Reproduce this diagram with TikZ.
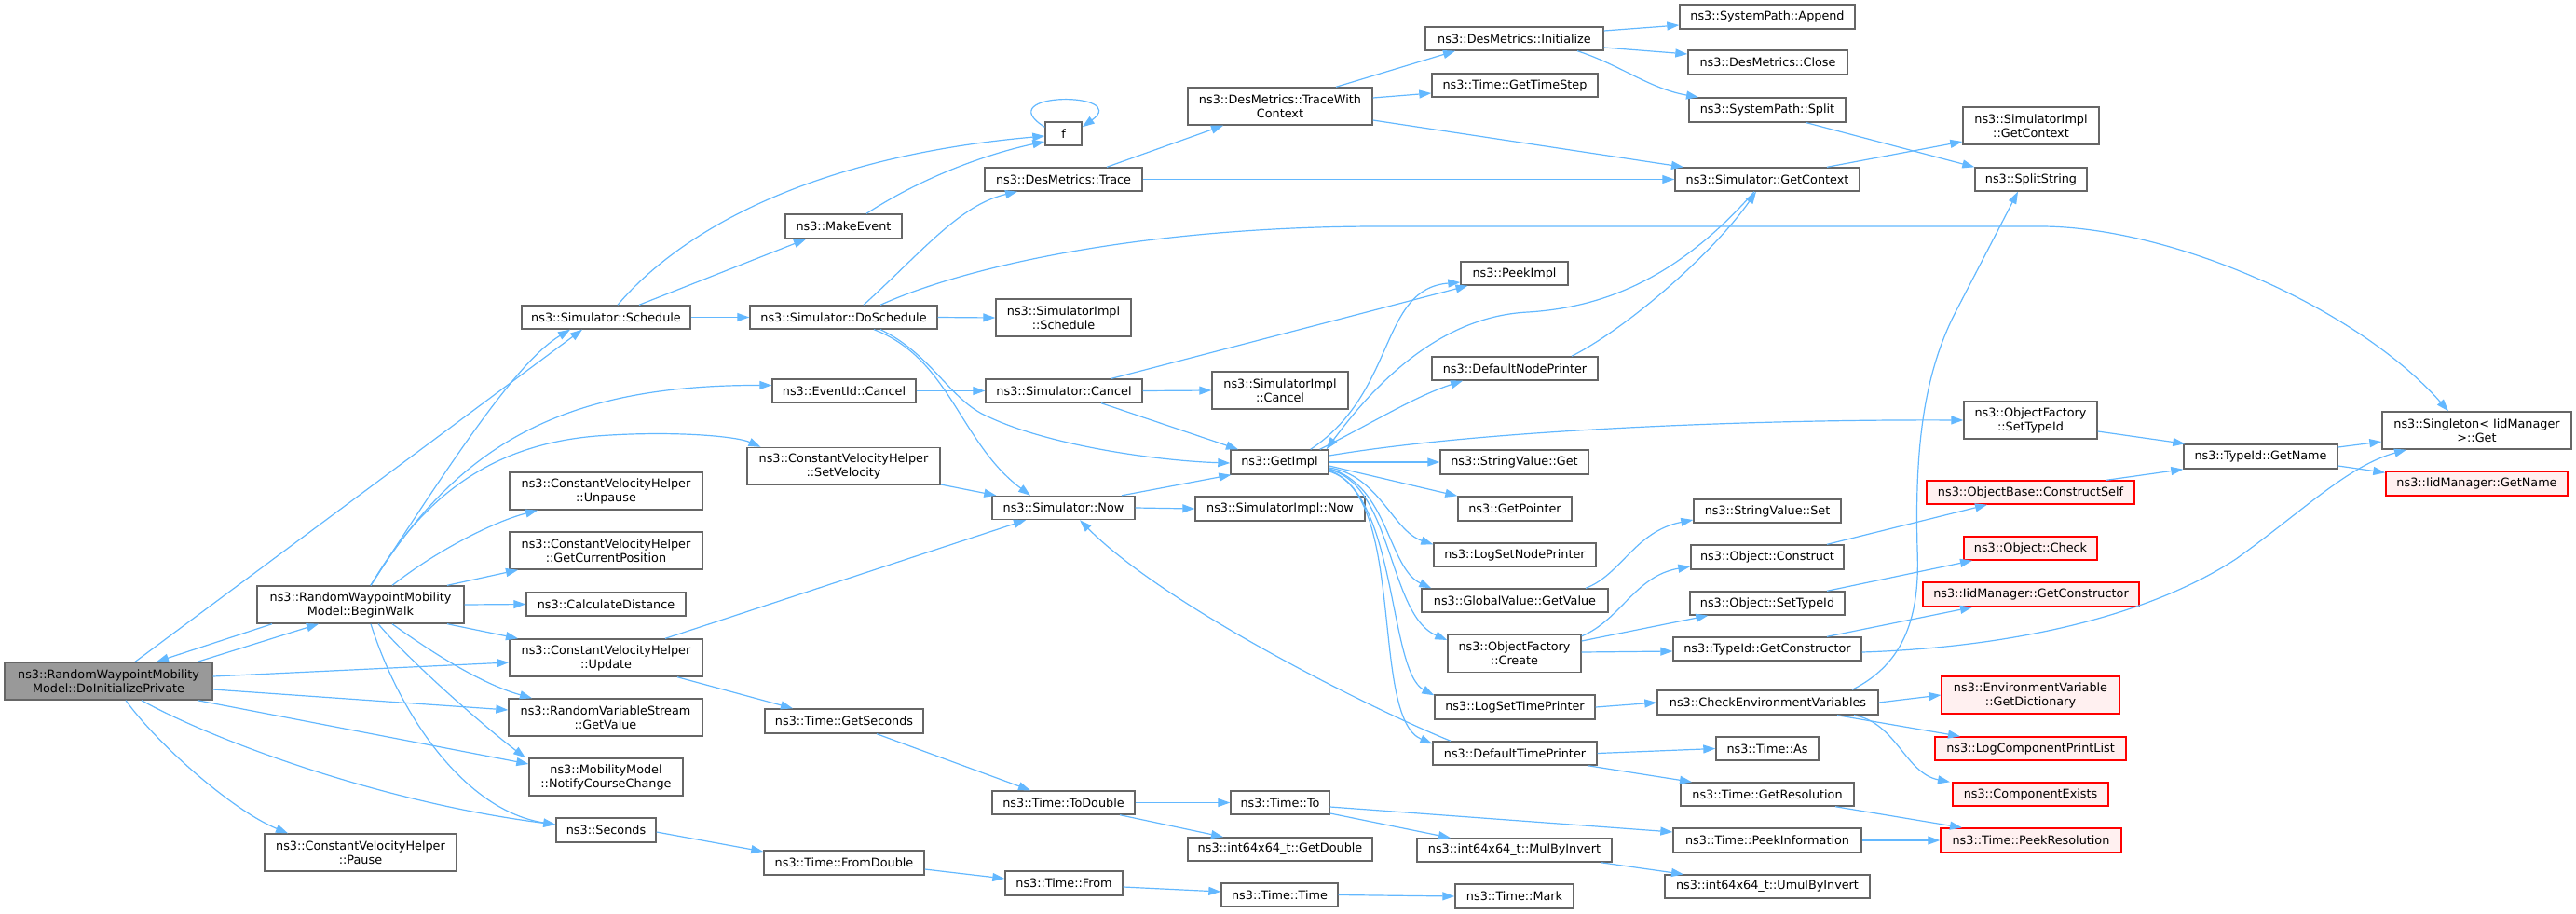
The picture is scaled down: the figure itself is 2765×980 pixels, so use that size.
\documentclass[tikz,border=0pt]{standalone}
\usepackage{fontspec}
\setmainfont{DejaVu Sans}
\usetikzlibrary{arrows.meta}
\definecolor{edgec}{HTML}{63B8FF}
\definecolor{gforty}{HTML}{666666}
\definecolor{gsixty}{HTML}{999999}
\definecolor{redfill}{HTML}{FFF0F0}
\newcommand\mknode[6]{\node[#1, minimum width=#4pt, minimum height=#5pt] (#2) at (#3) {#6};}
\begin{document}
\begin{tikzpicture}[x=1pt,y=-1pt,
  box/.style={draw=gforty, fill=white, line width=1.4pt, inner sep=0pt, align=center, font=\fontsize{12.8pt}{15pt}\selectfont},
  rootbox/.style={box, fill=gsixty},
  redbox/.style={box, draw=red, fill=redfill},
  edge/.style={draw=edgec, line width=1.2pt, -{Triangle[length=13pt,width=9pt]}}]
\useasboundingbox (0,0) rectangle (2765,980);
% column 0-1
\mknode{rootbox}{dip}{116.5,731}{223}{40}{ns3::RandomWaypointMobility\\Model::DoInitializePrivate}
\mknode{box}{bw}{387,649}{222}{40}{ns3::RandomWaypointMobility\\Model::BeginWalk}
\mknode{box}{pause}{387,915}{206}{40}{ns3::ConstantVelocityHelper\\::Pause}
% column 2
\mknode{box}{sched}{650.5,340.5}{181}{25}{ns3::Simulator::Schedule}
\mknode{box}{unpause}{650.5,527}{207}{40}{ns3::ConstantVelocityHelper\\::Unpause}
\mknode{box}{gcp}{650.5,591}{207}{40}{ns3::ConstantVelocityHelper\\::GetCurrentPosition}
\mknode{box}{calc}{650.5,648.5}{171}{25}{ns3::CalculateDistance}
\mknode{box}{upd}{650.5,706}{207}{40}{ns3::ConstantVelocityHelper\\::Update}
\mknode{box}{gv}{650,770}{208}{40}{ns3::RandomVariableStream\\::GetValue}
\mknode{box}{ncc}{650.5,834}{165}{40}{ns3::MobilityModel\\::NotifyCourseChange}
\mknode{box}{sec}{650.5,891}{107}{26}{ns3::Seconds}
% column 3
\mknode{box}{mk}{905.5,243}{125}{26}{ns3::MakeEvent}
\mknode{box}{dos}{905.5,340.5}{201}{25}{ns3::Simulator::DoSchedule}
\mknode{box}{evc}{906,419.5}{154}{25}{ns3::EventId::Cancel}
\mknode{box}{setv}{905.5,500.5}{207}{40}{ns3::ConstantVelocityHelper\\::SetVelocity}
\mknode{box}{gsec}{906,774}{170}{26}{ns3::Time::GetSeconds}
\mknode{box}{fdbl}{906,926}{172}{26}{ns3::Time::FromDouble}
% column 4
\mknode{box}{f}{1141.5,143.5}{39}{25}{f}
\mknode{box}{trace}{1141.5,192.5}{169}{25}{ns3::DesMetrics::Trace}
\mknode{box}{sisched}{1141.5,341}{145}{40}{ns3::SimulatorImpl\\::Schedule}
\mknode{box}{scancel}{1142,419.5}{168}{25}{ns3::Simulator::Cancel}
\mknode{box}{now}{1141.5,545}{153}{25}{ns3::Simulator::Now}
\mknode{box}{todbl}{1141.5,861.5}{153}{25}{ns3::Time::ToDouble}
\mknode{box}{from}{1142,948}{126}{26}{ns3::Time::From}
% column 5
\mknode{box}{twc}{1374,114}{198}{40}{ns3::DesMetrics::TraceWith\\Context}
\mknode{box}{sicancel}{1374,419}{146}{40}{ns3::SimulatorImpl\\::Cancel}
\mknode{box}{gimpl}{1373.5,496}{105}{26}{ns3::GetImpl}
\mknode{box}{sinow}{1374,546}{182}{26}{ns3::SimulatorImpl::Now}
\mknode{box}{to}{1374,861.5}{106}{25}{ns3::Time::To}
\mknode{box}{gdbl}{1374,911.5}{198}{25}{ns3::int64x64\_t::GetDouble}
\mknode{box}{ttime}{1373.5,960.5}{125}{25}{ns3::Time::Time}
% column 6
\mknode{box}{init}{1625.5,41.5}{191}{25}{ns3::DesMetrics::Initialize}
\mknode{box}{gts}{1626,91.5}{178}{25}{ns3::Time::GetTimeStep}
\mknode{box}{peek}{1625.5,293.5}{115}{25}{ns3::PeekImpl}
\mknode{box}{dnp}{1626,395.5}{178}{25}{ns3::DefaultNodePrinter}
\mknode{box}{svget}{1625.5,496}{159}{26}{ns3::StringValue::Get}
\mknode{box}{gptr}{1626,546}{122}{26}{ns3::GetPointer}
\mknode{box}{lsnp}{1626,595.5}{174}{25}{ns3::LogSetNodePrinter}
\mknode{box}{glob}{1626,644.5}{200}{25}{ns3::GlobalValue::GetValue}
\mknode{box}{ofc}{1625.5,701.5}{143}{40}{ns3::ObjectFactory\\::Create}
\mknode{box}{lstp}{1626,759}{172}{26}{ns3::LogSetTimePrinter}
\mknode{box}{dtp}{1626,808.5}{176}{25}{ns3::DefaultTimePrinter}
\mknode{box}{mbi}{1625.5,912.5}{209}{25}{ns3::int64x64\_t::MulByInvert}
\mknode{box}{mark}{1625.5,962}{127}{26}{ns3::Time::Mark}
% column 7
\mknode{box}{app}{1897,18}{188}{26}{ns3::SystemPath::Append}
\mknode{box}{close}{1897.5,67}{171}{26}{ns3::DesMetrics::Close}
\mknode{box}{split}{1897,118}{168}{26}{ns3::SystemPath::Split}
\mknode{box}{sgc}{1897,192.5}{198}{25}{ns3::Simulator::GetContext}
\mknode{box}{svset}{1897,548.5}{158}{25}{ns3::StringValue::Set}
\mknode{box}{ocons}{1897,598}{164}{26}{ns3::Object::Construct}
\mknode{box}{ostid}{1897,647.5}{166}{25}{ns3::Object::SetTypeId}
\mknode{box}{tgc}{1897,696.5}{202}{25}{ns3::TypeId::GetConstructor}
\mknode{box}{cev}{1897.5,754}{237}{26}{ns3::CheckEnvironmentVariables}
\mknode{box}{as}{1897,803.5}{110}{25}{ns3::Time::As}
\mknode{box}{gres}{1897,852.5}{186}{25}{ns3::Time::GetResolution}
\mknode{box}{pinfo}{1897,902}{202}{26}{ns3::Time::PeekInformation}
\mknode{box}{umbi}{1897,951.5}{220}{25}{ns3::int64x64\_t::UmulByInvert}
% column 8
\mknode{box}{sigc}{2180,135}{146}{40}{ns3::SimulatorImpl\\::GetContext}
\mknode{box}{sstr}{2180,192.5}{120}{25}{ns3::SplitString}
\mknode{box}{ofst}{2179.5,451}{143}{40}{ns3::ObjectFactory\\::SetTypeId}
\mknode{redbox}{ocs}{2179.5,528.5}{223}{25}{ns3::ObjectBase::ConstructSelf}
\mknode{redbox}{ochk}{2179.5,588.5}{143}{25}{ns3::Object::Check}
\mknode{redbox}{igc}{2180,638}{232}{26}{ns3::IidManager::GetConstructor}
\mknode{redbox}{evd}{2179.5,746}{191}{40}{ns3::EnvironmentVariable\\::GetDictionary}
\mknode{redbox}{lcpl}{2179.5,803.5}{205}{25}{ns3::LogComponentPrintList}
\mknode{redbox}{cex}{2179.5,852.5}{167}{25}{ns3::ComponentExists}
\mknode{redbox}{pres}{2180,902}{194}{26}{ns3::Time::PeekResolution}
% column 9-10
\mknode{box}{tgn}{2426.5,490}{165}{26}{ns3::TypeId::GetName}
\mknode{box}{sing}{2658.5,462}{203}{40}{ns3::Singleton< IidManager\\>::Get}
\mknode{redbox}{ign}{2658.5,519}{195}{26}{ns3::IidManager::GetName}
% edges
\draw[edge] ([xshift=95.5pt]dip.north) -- ([xshift=-45pt]bw.south);
\draw[edge] ([xshift=-95pt]bw.south) -- ([xshift=51.5pt]dip.north);
\draw[edge] ([xshift=28.5pt]dip.north) -- ([xshift=-25.5pt]sched.south);
\draw[edge] ([xshift=11pt]bw.north) .. controls (500,470) and (560,385) .. ([xshift=-38.5pt]sched.south);
\draw[edge] ([xshift=11pt]bw.north) .. controls (490,480) and (600,413) .. ([yshift=6pt]evc.west);
\draw[edge] ([xshift=11pt]bw.north) .. controls (450,540) and (520,478) .. (640,468) .. controls (720,462) and (790,468) .. ([xshift=-89pt]setv.north);
\draw[edge] ([xshift=34pt]bw.north) .. controls (470,590) and (530,560) .. ([xshift=-73.5pt]unpause.south);
\draw[edge] ([xshift=93pt]bw.north) -- ([xshift=-94.5pt]gcp.south);
\draw[edge] (bw.east) -- (calc.west);
\draw[edge] ([xshift=93pt]bw.south) -- ([xshift=-94.5pt]upd.north);
\draw[edge] ([xshift=34pt]bw.south) .. controls (470,705) and (520,735) .. ([xshift=-79pt]gv.north);
\draw[edge] ([xshift=19pt]bw.south) .. controls (440,710) and (520,780) .. ([xshift=-86.5pt]ncc.north);
\draw[edge] ([xshift=11pt]bw.south) .. controls (430,770) and (500,870) .. ([yshift=6pt]sec.west);
\draw[edge] ([yshift=5pt]dip.east) -- ([yshift=-5pt]upd.west);
\draw[edge] ([yshift=-9pt]dip.east) -- ([yshift=8pt]gv.west);
\draw[edge] ([xshift=95.5pt]dip.south) -- ([yshift=14pt]ncc.west);
\draw[edge] ([xshift=35.5pt]dip.south) .. controls (220,790) and (400,860) .. ([yshift=6pt]sec.west);
\draw[edge] ([xshift=18.5pt]dip.south) .. controls (170,800) and (250,870) .. ([xshift=-78pt]pause.north);
\draw[edge] (sched.east) -- (dos.west);
\draw[edge] ([xshift=12.5pt]sched.north) .. controls (720,260) and (850,170) .. ([yshift=-2.5pt]f.west);
\draw[edge] ([xshift=35.5pt]sched.north) -- ([xshift=-40.5pt]mk.south);
\draw[edge] ([xshift=24.5pt]mk.north) .. controls (990,190) and (1060,165) .. ([yshift=-8.5pt]f.west);
\draw[edge] ([yshift=-6pt]f.north west) .. controls (1060,98) and (1215,98) .. ([yshift=-6pt]f.north east);
\draw[edge] (dos.east) -- (sisched.west);
\draw[edge] ([xshift=21.5pt]dos.north) .. controls (990,270) and (1030,220) .. ([xshift=-49.5pt]trace.south);
\draw[edge] ([xshift=39.5pt]dos.north) .. controls (1050,280) and (1250,243) .. (1480,243) -- (2190,243) .. controls (2330,243) and (2530,330) .. ([xshift=-30.5pt]sing.north);
\draw[edge] ([xshift=32.5pt]dos.south) .. controls (1020,385) and (1030,475) .. ([xshift=-35.5pt]now.north);
\draw[edge] ([xshift=39.5pt]dos.south) .. controls (1000,380) and (1020,430) .. (1060,447) .. controls (1130,480) and (1250,495) .. ([yshift=-1pt]gimpl.west);
\draw[edge] (evc.east) -- (scancel.west);
\draw[edge] (scancel.east) -- (sicancel.west);
\draw[edge] ([xshift=40pt]scancel.south) -- ([xshift=-44.5pt]gimpl.north);
\draw[edge] ([xshift=51pt]scancel.north) -- ([xshift=-50pt]peek.south);
\draw[edge] ([xshift=62.5pt]now.north) -- ([xshift=1pt]gimpl.south west);
\draw[edge] (now.east) -- (sinow.west);
\draw[edge] ([yshift=-19.5pt]setv.east) -- ([xshift=5pt]now.north west);
\draw[edge] ([xshift=63.5pt]upd.north) -- ([xshift=-40.5pt]now.south);
\draw[edge] ([xshift=76.5pt]upd.south) -- ([xshift=-55pt]gsec.north);
\draw[edge] ([yshift=-2pt]sec.east) -- ([yshift=12pt]fdbl.west);
\draw[edge] ([xshift=35pt]gsec.south) -- ([xshift=-35.5pt]todbl.north);
\draw[edge] (todbl.east) -- (to.west);
\draw[edge] ([xshift=60.5pt]todbl.south) -- ([xshift=-61pt]gdbl.north);
\draw[edge] ([yshift=-7pt]fdbl.east) -- ([yshift=5pt]from.west);
\draw[edge] ([yshift=-4pt]from.east) -- ([yshift=3.5pt]ttime.west);
\draw[edge] (ttime.east) -- (mark.west);
\draw[edge] ([yshift=-4.5pt]to.east) -- ([yshift=9pt]pinfo.west);
\draw[edge] ([yshift=-11.5pt]to.east) -- ([xshift=-68.5pt]mbi.north);
\draw[edge] ([xshift=92.5pt]mbi.south) -- ([xshift=-90pt]umbi.north);
\draw[edge] (pinfo.east) -- (pres.west);
\draw[edge] ([xshift=73pt]gres.south) -- ([xshift=-74pt]pres.north);
\draw[edge] (dtp.east) -- (as.west);
\draw[edge] ([xshift=78pt]dtp.south) -- ([xshift=-81pt]gres.north);
\draw[edge] ([xshift=-69pt]dtp.north) .. controls (1470,760) and (1250,650) .. ([xshift=17.5pt]now.south);
\draw[edge] (lstp.east) -- (cev.west);
\draw[edge] (cev.east) -- (evd.west);
\draw[edge] ([xshift=74.5pt]cev.south) -- ([xshift=-75.5pt]lcpl.north);
\draw[edge] ([xshift=92.5pt]cev.south) .. controls (2035,775) and (2045,830) .. ([xshift=-86.5pt]cex.north);
\draw[edge] ([xshift=90.5pt]cev.north) .. controls (2045,712) and (2061,660) .. (2058,590) .. controls (2055,480) and (2065,400) .. (2100,333) -- ([xshift=-14pt]sstr.south);
\draw[edge] ([xshift=76pt]glob.north) .. controls (1740,617) and (1755,570) .. ([yshift=-9.5pt]svset.west);
\draw[edge] ([yshift=-2pt]ofc.north east) .. controls (1740,665) and (1755,618) .. ([yshift=-10pt]ocons.west);
\draw[edge] ([yshift=13.5pt]ofc.east) -- ([xshift=20pt]ostid.south west);
\draw[edge] ([yshift=1.5pt]ofc.east) -- ([yshift=-2.5pt]tgc.west);
\draw[edge] ([xshift=64pt]ocons.north) -- ([xshift=-46.5pt]ocs.south);
\draw[edge] ([xshift=64pt]ostid.north) -- ([xshift=-62.5pt]ochk.south);
\draw[edge] ([xshift=64pt]tgc.north) -- ([xshift=-63pt]igc.south);
\draw[edge] ([yshift=-3.5pt]tgc.east) .. controls (2150,695) and (2300,665) .. (2400,600) .. controls (2470,550) and (2520,500) .. ([xshift=-75.5pt]sing.south);
\draw[edge] ([yshift=10pt]tgn.east) -- ([yshift=-12pt]sing.west);
\draw[edge] ([yshift=-10pt]tgn.east) -- ([yshift=-2pt]ign.north west);
\draw[edge] ([yshift=-12pt]ofst.east) -- ([xshift=2pt]tgn.north west);
\draw[edge] ([xshift=81.5pt]ocs.north) -- (tgn.south west);
\draw[edge] ([xshift=46.5pt]trace.north) -- ([xshift=-61pt]twc.south);
\draw[edge] (trace.east) -- (sgc.west);
\draw[edge] ([xshift=60pt]twc.north) -- ([xshift=-63.5pt]init.south);
\draw[edge] ([yshift=9pt]twc.east) -- ([yshift=-8.5pt]gts.west);
\draw[edge] ([yshift=-15pt]twc.east) -- ([xshift=-90pt]sgc.north);
\draw[edge] ([yshift=8.5pt]init.east) -- ([yshift=-9pt]app.west);
\draw[edge] ([yshift=-9.5pt]init.east) -- ([yshift=9pt]close.west);
\draw[edge] ([xshift=67.5pt]init.south) .. controls (1740,70) and (1770,95) .. ([xshift=-74pt]split.north);
\draw[edge] ([xshift=42pt]split.south) -- (sstr.north west);
\draw[edge] ([xshift=64pt]sgc.north) -- ([yshift=-17pt]sigc.west);
\draw[edge] ([xshift=-14pt]sgc.south) .. controls (1800,300) and (1720,330) .. (1640,335) .. controls (1540,340) and (1470,420) .. ([xshift=-3pt]gimpl.north east);
\draw[edge] ([xshift=61pt]dnp.north) .. controls (1750,350) and (1840,270) .. ([xshift=-12pt]sgc.south);
\draw[edge] ([xshift=-20pt]gimpl.north east) .. controls (1500,420) and (1480,310) .. ([yshift=-9.5pt]peek.west);
\draw[edge] ([xshift=-10pt]gimpl.north east) .. controls (1480,450) and (1520,425) .. ([xshift=-56pt]dnp.south);
\draw[edge] ([yshift=7pt]gimpl.east) .. controls (1600,460) and (1900,450) .. (ofst.west);
\draw[edge] (gimpl.east) -- (svget.west);
\draw[edge] ([yshift=-4pt]gimpl.east) -- (gptr.north west);
\draw[edge] ([yshift=-6pt]gimpl.east) .. controls (1480,510) and (1495,570) .. ([yshift=-2pt]lsnp.north west);
\draw[edge] ([yshift=-7pt]gimpl.east) .. controls (1490,520) and (1490,610) .. ([xshift=11pt]glob.north west);
\draw[edge] ([yshift=-8pt]gimpl.east) .. controls (1495,520) and (1490,660) .. ([yshift=14.5pt]ofc.west);
\draw[edge] ([yshift=-9pt]gimpl.east) .. controls (1500,530) and (1490,720) .. ([yshift=-1pt]lstp.north west);
\draw[edge] ([yshift=-10pt]gimpl.east) .. controls (1510,530) and (1470,770) .. ([yshift=-3pt]dtp.north west);
\end{tikzpicture}
\end{document}
